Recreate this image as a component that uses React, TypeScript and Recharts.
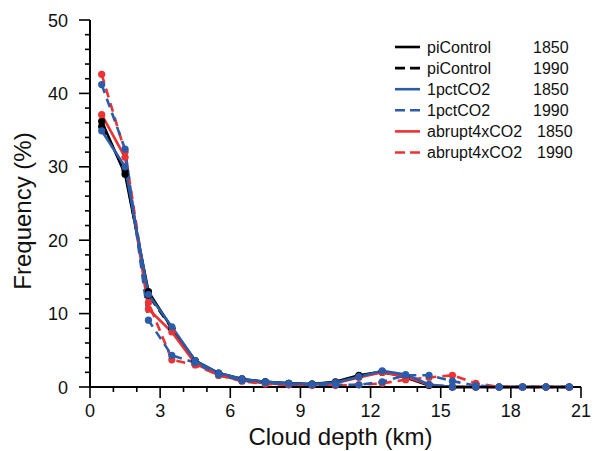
import React from 'react';
import { LineChart, Line, XAxis, YAxis, Legend, Label } from 'recharts';

// bin centres (km)
const depth = [0.5, 1.5, 2.5, 3.5, 4.5, 5.5, 6.5, 7.5, 8.5, 9.5, 10.5, 11.5, 12.5, 13.5, 14.5, 15.5, 16.5, 17.5, 18.5, 19.5, 20.5];

const piControl1850 = [36.2, 29.0, 13.0, 8.0, 3.6, 1.9, 1.1, 0.7, 0.5, 0.4, 0.7, 1.6, 2.1, 1.3, 0.2, 0, 0, 0, 0, 0, 0];
const piControl1990 = [35.5, 29.5, 12.5, 8.0, 3.5, 1.8, 1.0, 0.7, 0.5, 0.4, 0.6, 1.5, 2.0, 1.4, 0.3, 0, 0, 0, 0, 0, 0];
const pct1850 = [34.9, 30.0, 12.6, 8.2, 3.6, 1.9, 1.1, 0.7, 0.5, 0.4, 0.6, 1.4, 2.2, 1.7, 0.35, 0, 0, 0, 0, 0, 0];
const pct1990 = [41.2, 32.4, 9.1, 4.3, 3.3, 1.7, 0.9, 0.6, 0.4, 0.3, 0.3, 0.3, 0.7, 1.6, 1.6, 0.8, 0.2, 0, 0, 0, 0];
const abrupt1850 = [37.1, 31.3, 10.6, 7.5, 3.2, 1.6, 0.9, 0.5, 0.3, 0.3, 0.5, 1.3, 2.0, 1.4, 0.3, 0, 0, 0, 0, 0, 0];
const abrupt1990 = [42.6, 32.0, 11.5, 3.7, 3.0, 1.6, 0.8, 0.4, 0.3, 0.2, 0.2, 0.3, 0.5, 1.0, 1.3, 1.6, 0.5, 0, 0, 0, 0];

const xTicks = [0, 1, 2, 3, 4, 5, 6, 7, 8, 9, 10, 11, 12, 13, 14, 15, 16, 17, 18, 19, 20, 21];
const yTicks = [0, 2, 4, 6, 8, 10, 12, 14, 16, 18, 20, 22, 24, 26, 28, 30, 32, 34, 36, 38, 40, 42, 44, 46, 48, 50];

const BLACK = '#000000';
const BLUE = '#2a5caa';
const RED = '#ec3232';
const FONT = '"Liberation Sans", Arial, Helvetica, sans-serif';

const data = depth.map((d, i) => ({
  x: d,
  pi1850: piControl1850[i],
  pi1990: piControl1990[i],
  pct1850: pct1850[i],
  pct1990: pct1990[i],
  ab1850: abrupt1850[i],
  ab1990: abrupt1990[i],
}));

const series = [
  { key: 'pi1850', color: BLACK, dashed: false, name: 'piControl', year: '1850' },
  { key: 'pi1990', color: BLACK, dashed: true, name: 'piControl', year: '1990' },
  { key: 'ab1850', color: RED, dashed: false, name: 'abrupt4xCO2', year: '1850' },
  { key: 'ab1990', color: RED, dashed: true, name: 'abrupt4xCO2', year: '1990' },
  { key: 'pct1850', color: BLUE, dashed: false, name: '1pctCO2', year: '1850' },
  { key: 'pct1990', color: BLUE, dashed: true, name: '1pctCO2', year: '1990' },
];

const legendOrder = ['pi1850', 'pi1990', 'pct1850', 'pct1990', 'ab1850', 'ab1990'];

const MAJ = 11;
const MIN = 5;

const BottomTick = (props: any) => {
  const { x, y, payload } = props;
  const major = payload.value % 3 === 0;
  return (
    <g>
      <line x1={x} y1={y} x2={x} y2={y + (major ? MAJ : MIN)} stroke="#000" strokeWidth={1.6} />
      {major && (
        <text x={x} y={y + 30} textAnchor="middle" fontSize={18} fill="#111" fontFamily={FONT}>
          {payload.value}
        </text>
      )}
    </g>
  );
};

const TopTick = (props: any) => {
  const { x, y, payload } = props;
  const major = payload.value % 3 === 0;
  return <line x1={x} y1={y} x2={x} y2={y - (major ? MAJ : MIN)} stroke="#000" strokeWidth={1.6} />;
};

const LeftTick = (props: any) => {
  const { x, y, payload } = props;
  const major = payload.value % 10 === 0;
  return (
    <g>
      <line x1={x} y1={y} x2={x - (major ? MAJ : MIN)} y2={y} stroke="#000" strokeWidth={1.6} />
      {major && (
        <text x={x - 22} y={y + 6.5} textAnchor="end" fontSize={18} fill="#111" fontFamily={FONT}>
          {payload.value}
        </text>
      )}
    </g>
  );
};

const RightTick = (props: any) => {
  const { x, y, payload } = props;
  const major = payload.value % 10 === 0;
  return <line x1={x} y1={y} x2={x + (major ? MAJ : MIN)} y2={y} stroke="#000" strokeWidth={1.6} />;
};

const renderLegend = () => (
  <svg width={593} height={170} style={{ display: 'block' }}>
    {legendOrder.map((k, i) => {
      const s = series.find((e) => e.key === k)!;
      const cy = 47 + i * 21.1;
      return (
        <g key={k}>
          <line
            x1={395}
            x2={420}
            y1={cy}
            y2={cy}
            stroke={s.color}
            strokeWidth={2.6}
            strokeDasharray={s.dashed ? '10 5' : undefined}
          />
          <text x={427} y={cy + 5.5} fontSize={16} fill="#111" fontFamily={FONT}>
            {s.name}
          </text>
          <text x={s.name === 'abrupt4xCO2' ? 537 : 533} y={cy + 5.5} fontSize={16} fill="#111" fontFamily={FONT}>
            {s.year}
          </text>
        </g>
      );
    })}
  </svg>
);

export default function App() {
  const axisLine = { stroke: '#000', strokeWidth: 2 };
  return (
    <div style={{ position: 'absolute', left: 0, top: 0, width: 593, height: 451, background: '#fff' }}>
      <LineChart
        width={593}
        height={451}
        data={data}
        margin={{ top: 20, right: 12, bottom: 0, left: 0 }}
        style={{ fontFamily: FONT }}
      >
        <XAxis
          dataKey="x"
          type="number"
          domain={[0, 21]}
          ticks={xTicks}
          interval={0}
          tickSize={0}
          tickMargin={0}
          tickLine={false}
          tick={<BottomTick />}
          height={64}
          axisLine={axisLine}
        >
          <Label
            content={(p: any) => (
              <text
                x={p.viewBox.x + p.viewBox.width / 2 + 5}
                y={445}
                textAnchor="middle"
                fontSize={24}
                fill="#111"
                fontFamily={FONT}
              >
                Cloud depth (km)
              </text>
            )}
          />
        </XAxis>
        <XAxis
          xAxisId="top"
          orientation="top"
          type="number"
          domain={[0, 21]}
          ticks={xTicks}
          interval={0}
          tickSize={0}
          tickMargin={0}
          tickLine={false}
          tick={<TopTick />}
          height={0}
          axisLine={axisLine}
        />
        <YAxis
          type="number"
          domain={[0, 50]}
          ticks={yTicks}
          interval={0}
          tickSize={0}
          tickMargin={0}
          tickLine={false}
          tick={<LeftTick />}
          width={90}
          axisLine={axisLine}
        >
          <Label
            content={() => (
              <text
                x={0}
                y={0}
                transform="translate(31, 211) rotate(-90)"
                textAnchor="middle"
                fontSize={24}
                fill="#111"
                fontFamily={FONT}
              >
                Frequency (%)
              </text>
            )}
          />
        </YAxis>
        <YAxis
          yAxisId="right"
          orientation="right"
          type="number"
          domain={[0, 50]}
          ticks={yTicks}
          interval={0}
          tickSize={0}
          tickMargin={0}
          tickLine={false}
          tick={<RightTick />}
          width={0}
          axisLine={axisLine}
        />
        {series.map((s) => (
          <Line
            key={s.key}
            dataKey={s.key}
            type="linear"
            stroke={s.color}
            strokeWidth={2.6}
            strokeDasharray={s.dashed ? '9 6' : undefined}
            dot={{ r: 3.6, fill: s.color, stroke: s.color, strokeWidth: 0 }}
            activeDot={false}
            isAnimationActive={false}
          />
        ))}
        <Legend
          content={renderLegend}
          layout="vertical"
          verticalAlign="middle"
          align="center"
          wrapperStyle={{ left: 0, top: 0, width: 593, height: 170, margin: 0 }}
        />
      </LineChart>
    </div>
  );
}
